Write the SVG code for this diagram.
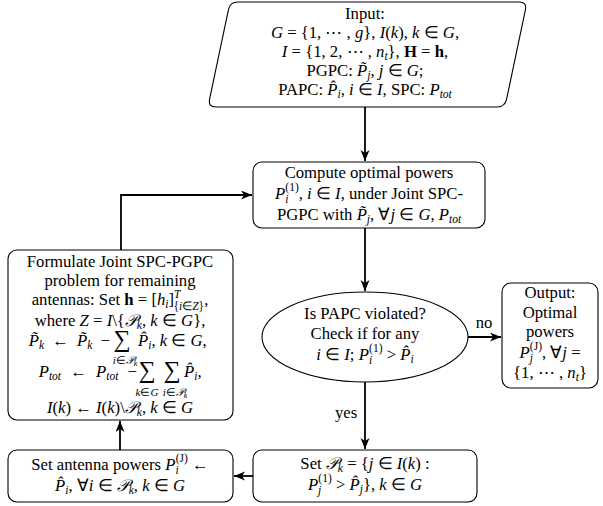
<svg xmlns="http://www.w3.org/2000/svg" width="603" height="506" viewBox="0 0 603 506" font-family="Liberation Serif, serif">
<defs>
<style>
.t{font-family:'Liberation Serif',serif;font-size:16.7px;fill:#000;text-anchor:middle}
.l{text-anchor:start}
.r{text-anchor:end}
.i{font-style:italic}
.b{font-weight:bold}
.s{font-size:11.5px}
.u{font-family:'Liberation Serif',serif;font-size:11px;fill:#000;text-anchor:middle}
.box{fill:#fff;stroke:#000;stroke-width:1.1}
.c{fill:none;stroke:#000;stroke-width:1.8}
.sig{font-size:24px}
</style>
<marker id="ah" markerUnits="userSpaceOnUse" markerWidth="12" markerHeight="10" refX="11" refY="4.5" orient="auto">
<path d="M0,0 L11,4.5 L0,9 L3,4.5 z" fill="#000"/>
</marker>
</defs>

<g id="input">
<path class="box" d="M238,2 L519,2 Q527,2 525.4,9.8 L506.6,99.2 Q505,107 497,107 L216,107 Q208,107 209.6,99.2 L228.4,9.8 Q230,2 238,2 Z"/>
<text class="t" x="365" y="19">Input:</text>
<text class="t" x="365" y="38"><tspan class="i">G</tspan> = {1, ⋯ , <tspan class="i">g</tspan>}, <tspan class="i">I</tspan>(<tspan class="i">k</tspan>), <tspan class="i">k</tspan> ∈ <tspan class="i">G</tspan>,</text>
<text class="t" x="365" y="57"><tspan class="i">I</tspan> = {1, 2, ⋯ , <tspan class="i">n</tspan><tspan class="s i" dy="3">t</tspan><tspan dy="-3">}, </tspan><tspan class="b">H</tspan> = <tspan class="b">h</tspan>,</text>
<text class="t" x="365" y="76">PGPC: <tspan class="i">P̃</tspan><tspan class="s i" dy="3">j</tspan><tspan dy="-3">, </tspan><tspan class="i">j</tspan> ∈ <tspan class="i">G</tspan>;</text>
<text class="t" x="365" y="95">PAPC: <tspan class="i">P̂</tspan><tspan class="s i" dy="3">i</tspan><tspan dy="-3">, </tspan><tspan class="i">i</tspan> ∈ <tspan class="i">I</tspan>, SPC: <tspan class="i">P</tspan><tspan class="s i" dy="3">tot</tspan></text>
</g>

<g id="compute">
<rect class="box" x="253" y="162" width="232" height="66" rx="9"/>
<text class="t" x="369" y="178">Compute optimal powers</text>
<text class="t" x="369" y="199"><tspan class="i">P</tspan><tspan class="s i" dy="4">i</tspan><tspan class="s" dx="-3" dy="-12">(1)</tspan><tspan dy="8">, </tspan><tspan class="i">i</tspan> ∈ <tspan class="i">I</tspan>, under Joint SPC-</text>
<text class="t" x="369" y="220">PGPC with <tspan class="i">P̃</tspan><tspan class="s i" dy="3">j</tspan><tspan dy="-3">, ∀</tspan><tspan class="i">j</tspan> ∈ <tspan class="i">G</tspan>, <tspan class="i">P</tspan><tspan class="s i" dy="3">tot</tspan></text>
</g>

<g id="decision">
<ellipse class="box" cx="365" cy="337" rx="103" ry="45"/>
<text class="t" x="365" y="319">Is PAPC violated?</text>
<text class="t" x="365" y="339">Check if for any</text>
<text class="t" x="365" y="360"><tspan class="i">i</tspan> ∈ <tspan class="i">I</tspan>; <tspan class="i">P</tspan><tspan class="s i" dy="4">i</tspan><tspan class="s" dx="-3" dy="-12">(1)</tspan><tspan dy="8"> &gt; </tspan><tspan class="i">P̂</tspan><tspan class="s i" dy="3">i</tspan></text>
</g>

<g id="output">
<rect class="box" x="502" y="283" width="96" height="105" rx="9"/>
<text class="t" x="550" y="298">Output:</text>
<text class="t" x="550" y="318">Optimal</text>
<text class="t" x="550" y="337">powers</text>
<text class="t" x="550" y="358"><tspan class="i">P</tspan><tspan class="s i" dy="4">j</tspan><tspan class="s" dx="-3" dy="-12">(J)</tspan><tspan dy="8">, ∀</tspan><tspan class="i">j</tspan> =</text>
<text class="t" x="550" y="378">{1, ⋯ , <tspan class="i">n</tspan><tspan class="s i" dy="3">t</tspan><tspan dy="-3">}</tspan></text>
</g>

<g id="setpk">
<rect class="box" x="253" y="450" width="224" height="52" rx="9"/>
<text class="t" x="365" y="469">Set <tspan class="i">𝒫</tspan><tspan class="s i" dy="3">k</tspan><tspan dy="-3"> = {</tspan><tspan class="i">j</tspan> ∈ <tspan class="i">I</tspan>(<tspan class="i">k</tspan>) :</text>
<text class="t" x="365" y="490"><tspan class="i">P</tspan><tspan class="s i" dy="4">j</tspan><tspan class="s" dx="-3" dy="-12">(1)</tspan><tspan dy="8"> &gt; </tspan><tspan class="i">P̂</tspan><tspan class="s i" dy="3">j</tspan><tspan dy="-3">}, </tspan><tspan class="i">k</tspan> ∈ <tspan class="i">G</tspan></text>
</g>

<g id="setantenna">
<rect class="box" x="8" y="450" width="225" height="52" rx="9"/>
<text class="t" x="120" y="470">Set antenna powers <tspan class="i">P</tspan><tspan class="s i" dy="4">i</tspan><tspan class="s" dx="-3" dy="-12">(J)</tspan><tspan dy="8"> ←</tspan></text>
<text class="t" x="120" y="491"><tspan class="i">P̂</tspan><tspan class="s i" dy="3">i</tspan><tspan dy="-3">, ∀</tspan><tspan class="i">i</tspan> ∈ <tspan class="i">𝒫</tspan><tspan class="s i" dy="3">k</tspan><tspan dy="-3">, </tspan><tspan class="i">k</tspan> ∈ <tspan class="i">G</tspan></text>
</g>

<g id="formulate">
<rect class="box" x="8" y="250" width="225" height="170" rx="9"/>
<text class="t" x="120" y="267">Formulate Joint SPC-PGPC</text>
<text class="t" x="120" y="286">problem for remaining</text>
<text class="t" x="120" y="305">antennas: Set <tspan class="b">h</tspan> = [<tspan class="i">h</tspan><tspan class="s i" dy="3">i</tspan><tspan dy="-3">]</tspan><tspan class="s i" dy="-7">T</tspan><tspan class="s" dx="-7" dy="12">{</tspan><tspan class="s i">i</tspan><tspan class="s">∈</tspan><tspan class="s i">Z</tspan><tspan class="s">}</tspan><tspan dy="-5">,</tspan></text>
<text class="t" x="120" y="326">where <tspan class="i">Z</tspan> = <tspan class="i">I</tspan>\{<tspan class="i">𝒫</tspan><tspan class="s i" dy="3">k</tspan><tspan dy="-3">, </tspan><tspan class="i">k</tspan> ∈ <tspan class="i">G</tspan>},</text>
<text class="t r" x="110" y="346" style="word-spacing:4px"><tspan class="i">P̃</tspan><tspan class="s i" dy="3">k</tspan><tspan dy="-3"> ← </tspan><tspan class="i">P̃</tspan><tspan class="s i" dy="3">k</tspan><tspan dy="-3"> −</tspan></text>
<text class="t sig" x="122" y="347">∑</text>
<text class="t l" x="138" y="346"><tspan class="i">P̂</tspan><tspan class="s i" dy="3">i</tspan><tspan dy="-3">, </tspan><tspan class="i">k</tspan> ∈ <tspan class="i">G</tspan>,</text>
<text class="u" x="125" y="364"><tspan class="i">i</tspan>∈<tspan class="i">𝒫</tspan><tspan class="i" font-size="8" dy="2">k</tspan></text>
<text class="t r" x="137" y="377" style="word-spacing:5px"><tspan class="i">P</tspan><tspan class="s i" dy="3">tot</tspan><tspan dy="-3"> ← </tspan><tspan class="i">P</tspan><tspan class="s i" dy="3">tot</tspan><tspan dy="-3"> −</tspan></text>
<text class="t sig" x="147" y="378">∑</text>
<text class="t sig" x="172" y="378">∑</text>
<text class="t l" x="184" y="377"><tspan class="i">P̂</tspan><tspan class="s i" dy="3">i</tspan><tspan dy="-3">,</tspan></text>
<text class="u" x="147" y="396"><tspan class="i">k</tspan>∈<tspan class="i">G</tspan></text>
<text class="u" x="175" y="396"><tspan class="i">i</tspan>∈<tspan class="i">𝒫</tspan><tspan class="i" font-size="8" dy="2">k</tspan></text>
<text class="t" x="120" y="413"><tspan class="i">I</tspan>(<tspan class="i">k</tspan>) ← <tspan class="i">I</tspan>(<tspan class="i">k</tspan>)\<tspan class="i">𝒫</tspan><tspan class="s i" dy="3">k</tspan><tspan dy="-3">, </tspan><tspan class="i">k</tspan> ∈ <tspan class="i">G</tspan></text>
</g>

<g id="connectors">
<path class="c" d="M365,107 L365,161" marker-end="url(#ah)"/>
<path class="c" d="M365,228 L365,291" marker-end="url(#ah)"/>
<path class="c" d="M468,337 L501,337" marker-end="url(#ah)"/>
<path class="c" d="M365,382 L365,449" marker-end="url(#ah)"/>
<path class="c" d="M253,476 L234,476" marker-end="url(#ah)"/>
<path class="c" d="M120,450 L120,421" marker-end="url(#ah)"/>
<path class="c" d="M121,250 L121,195 L252,195" marker-end="url(#ah)"/>
<text class="t" x="484" y="328">no</text>
<text class="t" x="346" y="418">yes</text>
</g>
</svg>
